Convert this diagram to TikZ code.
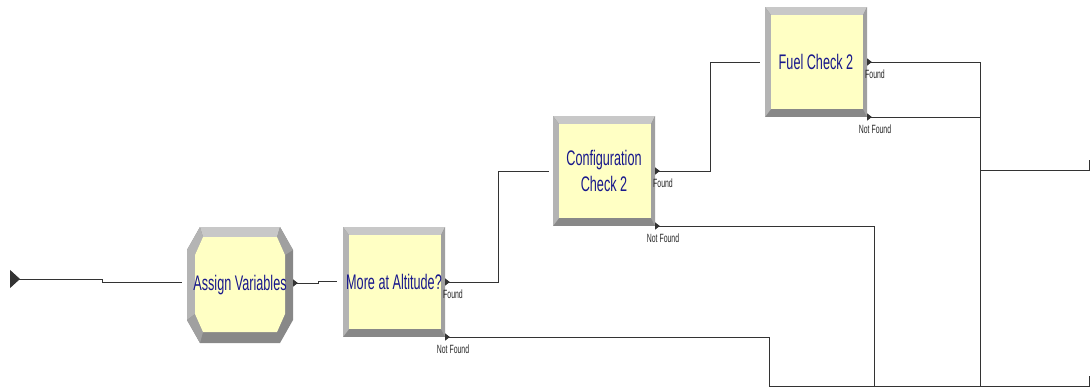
\documentclass[tikz,border=0pt]{standalone}
\usepackage{fontspec}
\usepackage{xcolor}
\usepackage{tikz}
\usetikzlibrary{arrows.meta,positioning,calc}

\newfontfamily\arenafont[FakeStretch=0.6]{Liberation Sans}
\newfontfamily\tagfont[FakeStretch=0.58]{Liberation Sans}

\definecolor{paleyellow}{RGB}{255,255,196}
\definecolor{labelnavy}{RGB}{24,24,140}
\definecolor{bevlight}{RGB}{200,200,200}
\definecolor{bevside}{RGB}{180,180,180}
\definecolor{bevmid}{RGB}{160,160,160}
\definecolor{bevdark}{RGB}{136,136,136}

\begin{document}
\begin{tikzpicture}[
    module/.style={rectangle, minimum width=2.55cm, minimum height=2.75cm, inner sep=0pt, outer sep=0pt,
      fill=bevdark, text=labelnavy, align=center, font=\arenafont\fontsize{15}{19}\selectfont,
      path picture={
        \coordinate (pnw) at (path picture bounding box.north west);
        \coordinate (pne) at (path picture bounding box.north east);
        \coordinate (psw) at (path picture bounding box.south west);
        \coordinate (pse) at (path picture bounding box.south east);
        \fill[bevlight] (pnw) -- (pne) -- ([shift={(-0.1,-0.2)}]pne) -- ([shift={(0.15,-0.2)}]pnw) -- cycle;
        \fill[bevside] (pnw) -- ([shift={(0.15,-0.2)}]pnw) -- ([shift={(0.15,0.2)}]psw) -- (psw) -- cycle;
        \fill[bevmid] (pne) -- (pse) -- ([shift={(-0.1,0.2)}]pse) -- ([shift={(-0.1,-0.2)}]pne) -- cycle;
        \fill[paleyellow] ([shift={(0.15,-0.2)}]pnw) rectangle ([shift={(-0.1,0.2)}]pse);
      }},
    octagon/.style={rectangle, minimum width=2.65cm, minimum height=2.9cm, inner sep=0pt, outer sep=0pt,
      fill=white, text=labelnavy, align=center, font=\arenafont\fontsize{15}{19}\selectfont,
      path picture={
        \coordinate (pnw) at (path picture bounding box.north west);
        \coordinate (pne) at (path picture bounding box.north east);
        \coordinate (psw) at (path picture bounding box.south west);
        \coordinate (pse) at (path picture bounding box.south east);
        \fill[bevdark] ([xshift=0.325cm]pnw) -- ([xshift=-0.325cm]pne) -- ([yshift=-0.575cm]pne)
          -- ([yshift=0.575cm]pse) -- ([xshift=-0.325cm]pse) -- ([xshift=0.325cm]psw)
          -- ([yshift=0.575cm]psw) -- ([yshift=-0.575cm]pnw) -- cycle;
        \fill[bevlight] ([xshift=0.325cm]pnw) -- ([xshift=-0.325cm]pne) -- ([shift={(-0.4,-0.25)}]pne) -- ([shift={(0.4,-0.25)}]pnw) -- cycle;
        \fill[bevside] ([yshift=-0.575cm]pnw) -- ([xshift=0.325cm]pnw) -- ([shift={(0.4,-0.25)}]pnw)
          -- ([shift={(0.2,-0.7)}]pnw) -- ([shift={(0.2,0.725)}]psw) -- ([yshift=0.575cm]psw) -- cycle;
        \fill[bevmid] ([xshift=-0.325cm]pne) -- ([yshift=-0.575cm]pne) -- ([shift={(-0.2,-0.7)}]pne) -- ([shift={(-0.4,-0.25)}]pne) -- cycle;
        \fill[bevmid] ([yshift=0.575cm]psw) -- ([xshift=0.325cm]psw) -- ([shift={(0.4,0.275)}]psw) -- ([shift={(0.2,0.725)}]psw) -- cycle;
        \fill[paleyellow] ([shift={(0.4,-0.25)}]pnw) -- ([shift={(-0.4,-0.25)}]pne) -- ([shift={(-0.2,-0.7)}]pne)
          -- ([shift={(-0.2,0.725)}]pse) -- ([shift={(-0.4,0.275)}]pse) -- ([shift={(0.4,0.275)}]psw)
          -- ([shift={(0.2,0.725)}]psw) -- ([shift={(0.2,-0.7)}]pnw) -- cycle;
      }},
    link/.style={draw=black!80, line width=0.65pt},
    exit/.style={link, {Triangle[reversed, length=0.12cm, width=0.18cm]}-},
    tag/.style={font=\tagfont\fontsize{8.5}{10}\selectfont, text=black!85, inner sep=0pt, anchor=north,
      xshift=0.2cm, yshift=-0.19cm}]

  \useasboundingbox (0,0) rectangle (27.25,-9.7);

  \node[octagon] (assign) at (6.0,-7.125) {Assign Variables};
  \node[module, right=1.25cm of assign, yshift=0.075cm] (more) {More at Altitude?};
  \node[module, right=2.7cm of more, yshift=2.775cm] (config) {Configuration\\Check 2};
  \node[module, right=2.75cm of config, yshift=2.725cm] (fuel) {Fuel Check 2};

  \coordinate (entry) at (0.25,-6.975);
  \coordinate (outA) at (27.225,-4.0);
  \coordinate (outB) at (27.225,-9.4);

  \draw[link, {Triangle[reversed, length=0.25cm, width=0.45cm]}-] (entry) -- ++(2.3,0) |- ([xshift=-0.125cm, yshift=0.075cm]assign.west);
  \draw[exit] ([yshift=0.05cm]assign.east) -- ++(0.625,0) |- ([xshift=-0.15cm, yshift=0.025cm]more.west);

  \draw[exit] (more.east) node[tag] (moreyes) {Found} -- ++(1.325,0) |- ([xshift=-0.1cm]config.west);
  \draw[exit] (more.south east) node[tag] (moreno) {Not Found} -- ++(8.1,0) |- ([yshift=-0.25cm]outB) -- (outB);

  \draw[exit] (config.east) node[tag] (configyes) {Found} -- ++(1.375,0) |- ([xshift=-0.125cm]fuel.west);
  \draw[exit] (config.south east) node[tag] (configno) {Not Found} -- ++(5.475,0) |- ([yshift=-0.25cm]outB) -- (outB);

  \draw[exit] (fuel.east) node[tag] (fuelyes) {Found} -- ++(2.825,0) |- ([yshift=-0.25cm]outB) -- (outB);
  \draw[exit] (fuel.south east) node[tag] (fuelno) {Not Found} -- ++(2.825,0) |- ([yshift=-0.25cm]outA) -- (outA);
\end{tikzpicture}
\end{document}
